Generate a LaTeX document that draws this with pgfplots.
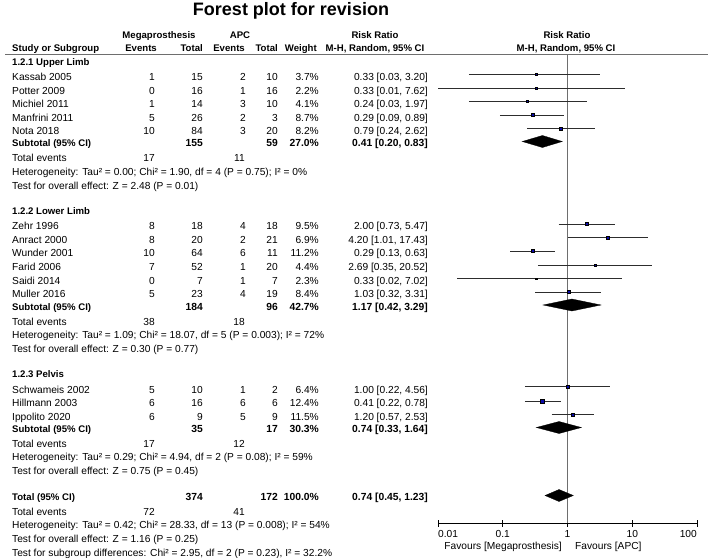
\documentclass[border=0pt]{standalone}
\usepackage{fontspec}
\setmainfont{Liberation Sans}
\usepackage{pgfplots}
\pgfplotsset{compat=1.18}
\definecolor{sq}{RGB}{10,10,170}
\definecolor{ci}{RGB}{45,45,45}
\definecolor{vl}{RGB}{110,110,110}
\newcommand\study[8]{%
  \node[L] at (12,#1) {#2};
  \node[R] at (155,#1) {#3};
  \node[R] at (203,#1) {#4};
  \node[R] at (246,#1) {#5};
  \node[R] at (278,#1) {#6};
  \node[R] at (319,#1) {#7};
  \node[R] at (428,#1) {#8};}
\newcommand\sq[3]{\addplot[only marks, mark=square*, mark size=#3bp, mark options={draw=none, fill=sq}] coordinates {(#1,#2)};}
\newcommand\ci[3]{\addplot[ci, line width=0.9bp] coordinates {(#1,#3) (#2,#3)};}
\begin{document}
\begin{tikzpicture}[font=\fontsize{10.2bp}{12bp}\selectfont,
  L/.style={anchor=base west, inner sep=0pt},
  R/.style={anchor=base east, inner sep=0pt},
  C/.style={anchor=base, inner sep=0pt},
  B/.style={font=\fontsize{9.6bp}{12bp}\selectfont\bfseries},
  BN/.style={font=\fontsize{10.3bp}{12bp}\selectfont\bfseries}]
\useasboundingbox (0,0) rectangle (708bp,-558bp);
\begin{axis}[at={(438bp,-523bp)}, anchor=south west,
  scale only axis, width=259bp, height=468bp,
  xmode=log, xmin=0.01, xmax=100, ymin=-523, ymax=-55,
  axis x line*=bottom, axis y line=none,
  xtick={0.01,0.1,1,10,100}, xticklabels={}, xminorticks=false,
  tick align=center, major tick length=7bp,
  x axis line style={line width=1bp, -}, tick style={line width=1bp, black},
  clip=false]
% line of no effect
\addplot[vl, line width=1.3bp] coordinates {(1,-55) (1,-523)};
% confidence intervals
\ci{0.03}{3.20}{-74.5}
\ci{0.01}{7.62}{-88}
\ci{0.03}{1.97}{-101.5}
\ci{0.09}{0.89}{-115}
\ci{0.24}{2.62}{-128.5}
\ci{0.73}{5.47}{-224}
\ci{1.01}{17.43}{-237.5}
\ci{0.13}{0.63}{-251}
\ci{0.35}{20.52}{-265}
\ci{0.02}{7.02}{-278.5}
\ci{0.32}{3.31}{-292}
\ci{0.22}{4.56}{-386.5}
\ci{0.22}{0.78}{-401}
\ci{0.57}{2.53}{-414.5}
% point estimates (size by weight)
\sq{0.33}{-74.5}{0.96}
\sq{0.33}{-88}{0.74}
\sq{0.24}{-101.5}{1.01}
\sq{0.29}{-115}{1.47}
\sq{0.79}{-128.5}{1.43}
\sq{2.00}{-224}{1.54}
\sq{4.20}{-237.5}{1.31}
\sq{0.29}{-251}{1.67}
\sq{2.69}{-265}{1.05}
\sq{0.33}{-278.5}{0.76}
\sq{1.03}{-292}{1.45}
\sq{1.00}{-386.5}{1.26}
\sq{0.41}{-401}{1.76}
\sq{1.20}{-414.5}{1.70}
% pooled diamonds
\addplot[fill=black, draw=black, line width=0.3bp] coordinates {(0.20,-141.5) (0.41,-135.5) (0.83,-141.5) (0.41,-147.5)} -- cycle;
\addplot[fill=black, draw=black, line width=0.3bp] coordinates {(0.42,-305) (1.17,-299) (3.29,-305) (1.17,-311)} -- cycle;
\addplot[fill=black, draw=black, line width=0.3bp] coordinates {(0.33,-427.5) (0.74,-421.5) (1.64,-427.5) (0.74,-433.5)} -- cycle;
\addplot[fill=black, draw=black, line width=0.3bp] coordinates {(0.45,-495.5) (0.74,-489.5) (1.23,-495.5) (0.74,-501.5)} -- cycle;
% tick labels
\node[L] at (axis cs:0.01,-537.5) {0.01};
\node[C] at (axis cs:0.1,-537.5) {0.1};
\node[C] at (axis cs:1,-537.5) {1};
\node[C] at (axis cs:10,-537.5) {10};
\node[R] at (axis cs:100,-537.5) {100};
\end{axis}
\begin{scope}[x=1bp, y=-1bp]
\node[C, font=\fontsize{18bp}{20bp}\selectfont\bfseries] at (291,15) {Forest plot for revision};
% headers
\node[C,B] at (159,38.5) {Megaprosthesis};
\node[C,B] at (240,38.5) {APC};
\node[C,B] at (375,38.5) {Risk Ratio};
\node[C,B] at (567,38.5) {Risk Ratio};
\node[L,B] at (12,51) {Study or Subgroup};
\node[R,B] at (157,51) {Events};
\node[R,B] at (203,51) {Total};
\node[R,B] at (245,51) {Events};
\node[R,B] at (278,51) {Total};
\node[R,B] at (317,51) {Weight};
\node[C,B] at (375,51) {M-H, Random, 95\% CI};
\node[C,B] at (566,51) {M-H, Random, 95\% CI};
\draw[line width=1.3bp, vl] (5,54.5) -- (708,54.5);
% 1.2.1
\node[L,B] at (12,65.5) {1.2.1 Upper Limb};
\study{80.5}{Kassab 2005}{1}{15}{2}{10}{3.7\%}{0.33 [0.03, 3.20]}
\study{94}{Potter 2009}{0}{16}{1}{16}{2.2\%}{0.33 [0.01, 7.62]}
\study{107.5}{Michiel 2011}{1}{14}{3}{10}{4.1\%}{0.24 [0.03, 1.97]}
\study{121}{Manfrini 2011}{5}{26}{2}{3}{8.7\%}{0.29 [0.09, 0.89]}
\study{134.5}{Nota 2018}{10}{84}{3}{20}{8.2\%}{0.79 [0.24, 2.62]}
\node[L,B] at (12,146.5) {Subtotal (95\% CI)};
\node[R,BN] at (203,146.5) {155};
\node[R,BN] at (278,146.5) {59};
\node[R,BN] at (319,146.5) {27.0\%};
\node[R,BN] at (428,146.5) {0.41 [0.20, 0.83]};
\node[L] at (12,161.5) {Total events};
\node[R] at (155,161.5) {17};
\node[R] at (245,161.5) {11};
\node[L] at (12,175.5) {Heterogeneity: Tau² = 0.00; Chi² = 1.90, df = 4 (P = 0.75); I² = 0\%};
\node[L] at (12,189) {Test for overall effect: Z = 2.48 (P = 0.01)};
% 1.2.2
\node[L,B] at (12,214.5) {1.2.2 Lower Limb};
\study{229.5}{Zehr 1996}{8}{18}{4}{18}{9.5\%}{2.00 [0.73, 5.47]}
\study{243}{Anract 2000}{8}{20}{2}{21}{6.9\%}{4.20 [1.01, 17.43]}
\study{256.5}{Wunder 2001}{10}{64}{6}{11}{11.2\%}{0.29 [0.13, 0.63]}
\study{270.5}{Farid 2006}{7}{52}{1}{20}{4.4\%}{2.69 [0.35, 20.52]}
\study{284}{Saidi 2014}{0}{7}{1}{7}{2.3\%}{0.33 [0.02, 7.02]}
\study{297.5}{Muller 2016}{5}{23}{4}{19}{8.4\%}{1.03 [0.32, 3.31]}
\node[L,B] at (12,310) {Subtotal (95\% CI)};
\node[R,BN] at (203,310) {184};
\node[R,BN] at (278,310) {96};
\node[R,BN] at (319,310) {42.7\%};
\node[R,BN] at (428,310) {1.17 [0.42, 3.29]};
\node[L] at (12,325.5) {Total events};
\node[R] at (155,325.5) {38};
\node[R] at (245,325.5) {18};
\node[L] at (12,338.5) {Heterogeneity: Tau² = 1.09; Chi² = 18.07, df = 5 (P = 0.003); I² = 72\%};
\node[L] at (12,352) {Test for overall effect: Z = 0.30 (P = 0.77)};
% 1.2.3
\node[L,B] at (12,377.5) {1.2.3 Pelvis};
\study{393}{Schwameis 2002}{5}{10}{1}{2}{6.4\%}{1.00 [0.22, 4.56]}
\study{406.5}{Hillmann 2003}{6}{16}{6}{6}{12.4\%}{0.41 [0.22, 0.78]}
\study{420.5}{Ippolito 2020}{6}{9}{5}{9}{11.5\%}{1.20 [0.57, 2.53]}
\node[L,B] at (12,432) {Subtotal (95\% CI)};
\node[R,BN] at (203,432) {35};
\node[R,BN] at (278,432) {17};
\node[R,BN] at (319,432) {30.3\%};
\node[R,BN] at (428,432) {0.74 [0.33, 1.64]};
\node[L] at (12,447) {Total events};
\node[R] at (155,447) {17};
\node[R] at (245,447) {12};
\node[L] at (12,460.5) {Heterogeneity: Tau² = 0.29; Chi² = 4.94, df = 2 (P = 0.08); I² = 59\%};
\node[L] at (12,474) {Test for overall effect: Z = 0.75 (P = 0.45)};
% total
\node[L,B] at (12,500.5) {Total (95\% CI)};
\node[R,BN] at (203,500.5) {374};
\node[R,BN] at (278,500.5) {172};
\node[R,BN] at (319,500.5) {100.0\%};
\node[R,BN] at (428,500.5) {0.74 [0.45, 1.23]};
\node[L] at (12,515.5) {Total events};
\node[R] at (155,515.5) {72};
\node[R] at (245,515.5) {41};
\node[L] at (12,528.5) {Heterogeneity: Tau² = 0.42; Chi² = 28.33, df = 13 (P = 0.008); I² = 54\%};
\node[L] at (12,542) {Test for overall effect: Z = 1.16 (P = 0.25)};
\node[L] at (12,556.5) {Test for subgroup differences: Chi² = 2.95, df = 2 (P = 0.23), I² = 32.2\%};
% favours
\node[R] at (562,549.5) {Favours [Megaprosthesis]};
\node[L] at (575,549.5) {Favours [APC]};
\end{scope}
\end{tikzpicture}
\end{document}
